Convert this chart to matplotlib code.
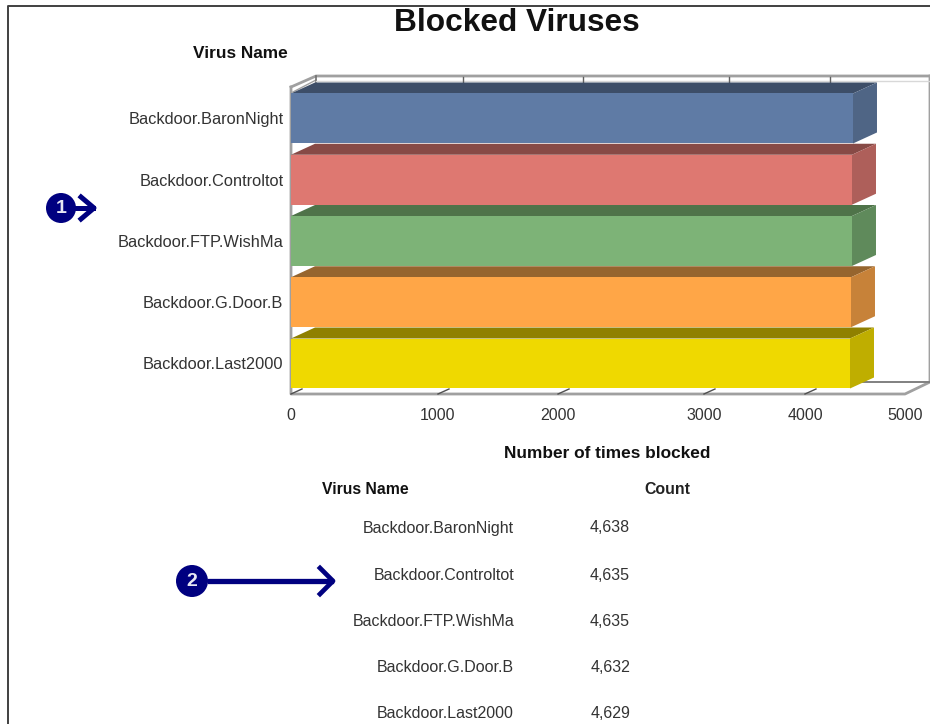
import numpy as np
from matplotlib import pyplot as plt
from matplotlib.patches import Polygon, Circle

plt.rcParams['font.family'] = ['Liberation Sans', 'DejaVu Sans']

# data
virus_names = ['Backdoor.BaronNight', 'Backdoor.Controltot', 'Backdoor.FTP.WishMa',
               'Backdoor.G.Door.B', 'Backdoor.Last2000']
table_counts = ['4,638', '4,635', '4,635', '4,632', '4,629']
# bar ends as they sit against the printed axis (the picture draws them shorter than the table says)
bar_ends = [4480, 4470, 4470, 4460, 4450]
x_ticks = [0, 1000, 2000, 3000, 4000, 5000]
# the printed ticks are not evenly spaced, these are their places along the axis (0..1)
tick_places = [0, 0.2394, 0.4349, 0.6726, 0.8371, 1]

front_colors = ['#5f7ba5', '#de7871', '#7db377', '#ffa647', '#efd900']
top_colors = ['#3d4e68', '#874a46', '#4f7349', '#96652e', '#8f8000']
side_colors = ['#4f6585', '#ae5f5a', '#5f8a5b', '#c78239', '#bfae00']

W, H = 930, 724
DX, DY = 24, 11  # depth of the fake 3d, in pixels
TEXT = '#333333'
NAVY = '#000080'


def fwd(v):
    return np.interp(v, x_ticks, tick_places)


def inv(v):
    return np.interp(v, tick_places, x_ticks)


fig = plt.figure(figsize=(W / 100, H / 100), dpi=100, facecolor='white')

# overlay in pixel coordinates for frame, depth faces, texts and callouts
over = fig.add_axes([0, 0, 1, 1], zorder=1)
over.set_xlim(0, W)
over.set_ylim(H, 0)
over.axis('off')

ax = fig.add_axes([291 / W, (H - 394) / H, 614 / W, 307 / H], zorder=2)
ax.patch.set_alpha(0)
ax.set_xscale('function', functions=(fwd, inv))
ax.set_xlim(0, 5000)
ax.set_ylim(4.498, -0.514)
for s in ax.spines.values():
    s.set_visible(False)

y_pos = np.arange(len(virus_names))
ax.barh(y_pos, bar_ends, height=0.816, color=front_colors, linewidth=0, zorder=3)
ax.set_xticks(x_ticks)
ax.set_xticklabels([str(t) for t in x_ticks], fontsize=11.5, color=TEXT)
ax.xaxis.set_minor_locator(plt.NullLocator())
ax.set_yticks(y_pos)
ax.set_yticklabels(virus_names, fontsize=11.8, color=TEXT)
ax.tick_params(axis='x', length=0, pad=10)
ax.tick_params(axis='y', length=0, pad=5.5)


def to_px(v, y):
    return over.transData.inverted().transform(ax.transData.transform((v, y)))


# chart box, drawn behind the bars
box = '#a0a0a0'
over.plot([291, 291, 905, 930, 930], [87, 394, 394, 382, 76], color=box, lw=2, zorder=1)
over.plot([291, 316, 930], [87, 76, 76], color=box, lw=2, zorder=1)
over.plot([293, 316], [92, 80], color=box, lw=1.0, zorder=1)
over.plot([316, 316], [76, 84], color='#707070', lw=1.2, zorder=1)
over.plot([316, 930], [81, 81], color='#d8d8d8', lw=1.0, zorder=1)
over.plot([860, 930], [382, 382], color='#808080', lw=1.4, zorder=1)

# tick marks on the floor and on the back wall
for t in x_ticks[:-1]:
    x0, _ = to_px(t, 4.498)
    over.plot([x0, x0 + 11], [394, 389], color='#505050', lw=1.0, zorder=1)
    if t > 0:
        over.plot([x0 + 25, x0 + 25], [77, 82], color='#606060', lw=1.0, zorder=1)

# depth faces of the bars
for i, v in enumerate(bar_ends):
    x0, y_top = to_px(0, i - 0.408)
    x1, y_bot = to_px(v, i + 0.408)
    over.add_patch(Polygon([(x0, y_top), (x0 + DX, y_top - DY), (x1 + DX, y_top - DY), (x1, y_top)],
                           closed=True, facecolor=top_colors[i], edgecolor='none', zorder=2))
    over.add_patch(Polygon([(x1, y_top), (x1 + DX, y_top - DY), (x1 + DX, y_bot - DY), (x1, y_bot)],
                           closed=True, facecolor=side_colors[i], edgecolor='none', zorder=2))

# page border
over.plot([8, 8, W], [H, 6, 6], color='#404040', lw=1.4, zorder=1)

# titles
over.text(517, 23, 'Blocked Viruses', fontsize=22.8, fontweight='bold', color='#111111',
          ha='center', va='center')
over.text(288, 53, 'Virus Name', fontsize=12.4, fontweight='bold', color='#111111',
          ha='right', va='center')
over.text(607, 453, 'Number of times blocked', fontsize=12.4, fontweight='bold', color='#111111',
          ha='center', va='center')

# table under the chart
over.text(322, 489.5, 'Virus Name', fontsize=11.3, fontweight='bold', color='#111111', va='center')
over.text(644, 489.5, 'Count', fontsize=11.4, fontweight='bold', color='#222222', va='center')
row_y = [528, 575, 621, 667, 713]
for name, count, y in zip(virus_names, table_counts, row_y):
    over.text(514, y, name, fontsize=11.5, color=TEXT, ha='right', va='center')
    over.text(630, y, count, fontsize=11.5, color=TEXT, ha='right', va='center')

# numbered callouts
over.add_patch(Circle((61, 208), 15, facecolor=NAVY, edgecolor='none', zorder=4))
over.text(61, 208.5, '1', color='#e8e8f4', fontsize=14, fontweight='bold', ha='center',
          va='center', zorder=5)
over.plot([74, 93], [208, 208], color=NAVY, lw=3.6, zorder=4)
over.plot([81, 94, 81], [197, 208, 219], color=NAVY, lw=3.6, zorder=4)

over.add_patch(Circle((192, 581), 16, facecolor=NAVY, edgecolor='none', zorder=4))
over.text(192, 581.5, '2', color='#e8e8f4', fontsize=14, fontweight='bold', ha='center',
          va='center', zorder=5)
over.plot([210, 331], [581, 581], color=NAVY, lw=3.8, zorder=4)
over.plot([320, 333, 320], [568, 581, 594], color=NAVY, lw=3.4, zorder=4)

fig.savefig('out.png', dpi=100)
